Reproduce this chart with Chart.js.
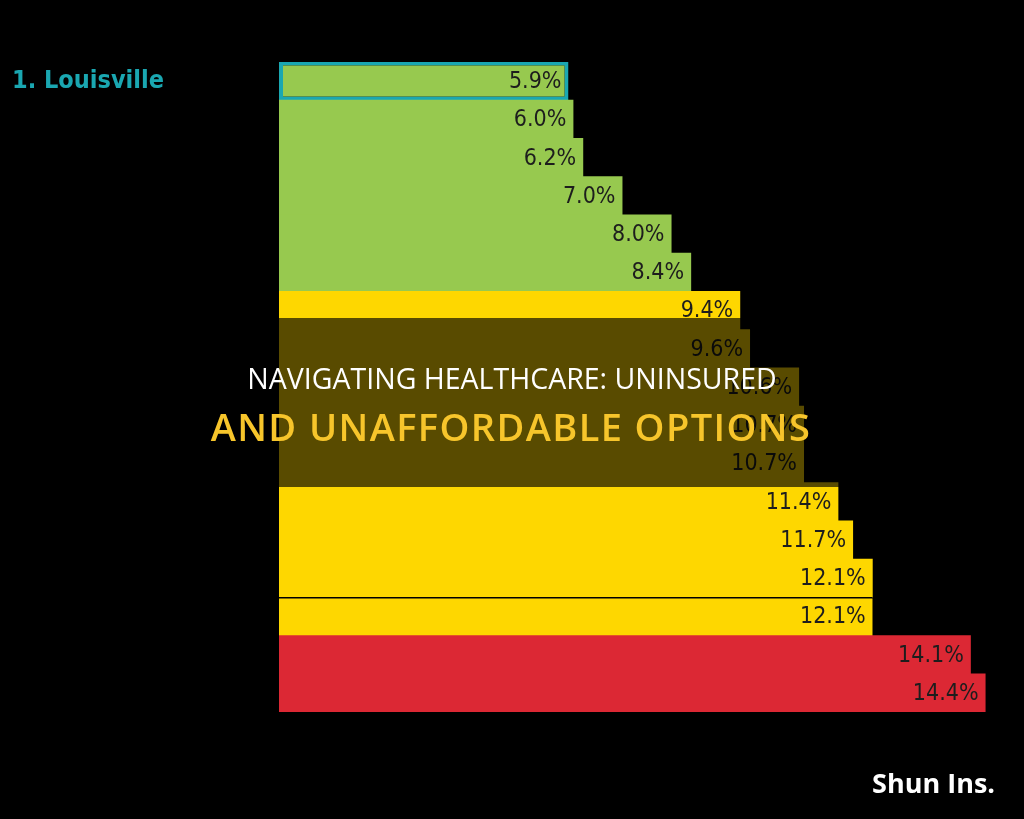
<!DOCTYPE html>
<html>
<head>
<meta charset="utf-8">
<script src="https://cdn.jsdelivr.net/npm/chart.js@4.4.1/dist/chart.umd.min.js"></script>
<style>
  html, body { margin: 0; padding: 0; background: #000; }
  #wrap { position: relative; width: 1024px; height: 819px; }
</style>
</head>
<body>
<div id="wrap"><canvas id="barChart" width="1024" height="819"></canvas></div>
<script>
// Chart data
const cities = ['1. Louisville', '', '', '', '', '', '', '', '', '', '', '', '', '', '', '', ''];
const uninsuredRate = [5.9, 6.0, 6.2, 7.0, 8.0, 8.4, 9.4, 9.6, 10.6, 10.7, 10.7, 11.4, 11.7, 12.1, 12.1, 14.1, 14.4];
const xTicks = [0, 15];

// Styling
const GREEN = '#97c94f';
const YELLOW = '#fed700';
const RED = '#dc2834';
const TEAL = '#1aa7b1';
const barColors = [GREEN, GREEN, GREEN, GREEN, GREEN, GREEN,
    YELLOW, YELLOW, YELLOW, YELLOW, YELLOW, YELLOW, YELLOW, YELLOW, YELLOW,
    RED, RED];

// Value labels drawn inside the bar ends
const valueLabels = {
    id: 'valueLabels',
    afterDatasetsDraw(chart) {
        const ctx = chart.ctx;
        const meta = chart.getDatasetMeta(0);
        ctx.save();
        ctx.font = '300 23px "Liberation Sans Narrow", "DejaVu Sans Condensed", "Roboto", sans-serif';
        ctx.fillStyle = '#1d1d1d';
        ctx.textAlign = 'right';
        ctx.textBaseline = 'middle';
        meta.data.forEach((bar, i) => {
            ctx.fillText(uninsuredRate[i].toFixed(1) + '%', bar.x - 7, bar.y + 1);
        });
        ctx.restore();
    }
};

// Title band and watermark
const titleBand = {
    id: 'titleBand',
    afterDraw(chart) {
        const ctx = chart.ctx;
        ctx.save();
        ctx.fillStyle = 'rgba(0,0,0,0.65)';
        ctx.fillRect(0, 318, 1024, 169);
        ctx.textAlign = 'center';
        ctx.textBaseline = 'middle';
        ctx.fillStyle = '#ffffff';
        ctx.font = '28.5px "Open Sans", sans-serif';
        ctx.letterSpacing = '0px';
        ctx.fillText('NAVIGATING HEALTHCARE: UNINSURED', 512, 381);
        ctx.fillStyle = '#f7c52b';
        ctx.font = '600 38px "Open Sans", sans-serif';
        ctx.letterSpacing = '1.4px';
        ctx.fillText('AND UNAFFORDABLE OPTIONS', 511, 430);
        ctx.letterSpacing = '0px';
        ctx.textAlign = 'right';
        ctx.fillStyle = '#ffffff';
        ctx.font = 'bold 27px "Open Sans", sans-serif';
        ctx.fillText('Shun Ins.', 995, 785);
        ctx.restore();
    }
};

new Chart(document.getElementById('barChart').getContext('2d'), {
    type: 'bar',
    data: {
        labels: cities,
        datasets: [{
            data: uninsuredRate,
            backgroundColor: barColors,
            borderColor: ctx => ctx.dataIndex === 0 ? TEAL : '#000',
            borderWidth: ctx => ctx.dataIndex === 0 ? 4 :
                (ctx.dataIndex === 14 ? { top: 1.5, left: 0, right: 0, bottom: 0 } : 0),
            borderSkipped: false,
            categoryPercentage: 1.0,
            barPercentage: 1.02
        }]
    },
    options: {
        indexAxis: 'y',
        responsive: false,
        animation: false,
        layout: { padding: { left: 12, right: 9, top: 62, bottom: 107 } },
        plugins: { legend: { display: false }, tooltip: { enabled: false } },
        scales: {
            x: {
                min: xTicks[0],
                max: xTicks[1],
                display: false,
                grid: { display: false }
            },
            y: {
                grid: { display: false },
                border: { display: false },
                afterFit: scale => { scale.width = 267; },
                ticks: {
                    crossAlign: 'far',
                    color: TEAL,
                    font: { family: '"Liberation Sans Narrow", "DejaVu Sans Condensed", sans-serif', size: 25, weight: 'bold' }
                }
            }
        }
    },
    plugins: [valueLabels, titleBand]
});
</script>
</body>
</html>
